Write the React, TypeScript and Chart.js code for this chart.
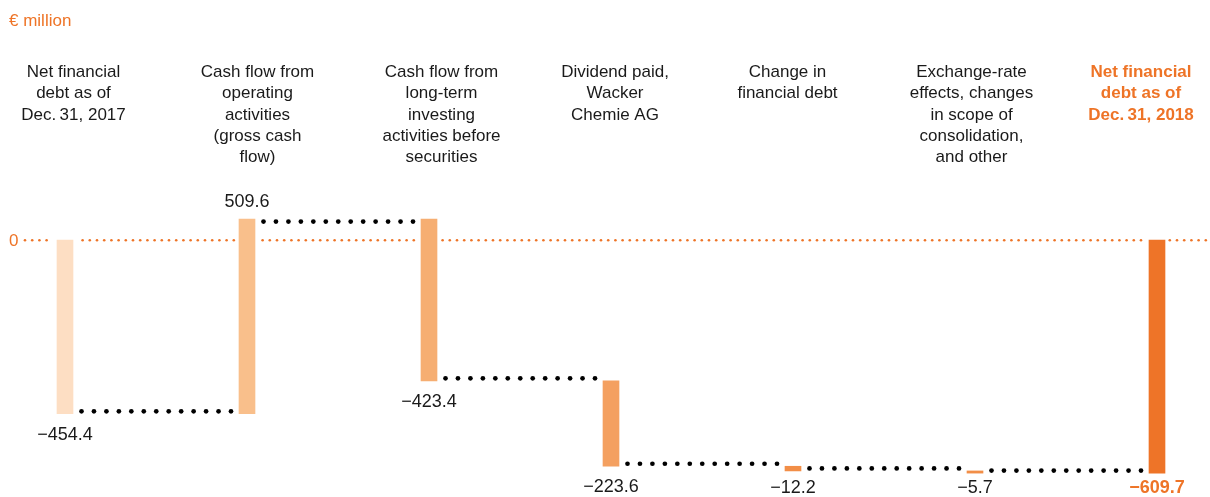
import React, { useEffect, useRef } from "react";
import { Chart, registerables } from "chart.js";

Chart.register(...registerables);

// ---------- data ----------
const CATEGORIES: string[][] = [
  ["Net financial", "debt as of", "Dec.\u200931, 2017"],
  ["Cash flow from", "operating", "activities", "(gross cash", "flow)"],
  ["Cash flow from", "long-term", "investing", "activities before", "securities"],
  ["Dividend paid,", "Wacker", "Chemie AG"],
  ["Change in", "financial debt"],
  ["Exchange-rate", "effects, changes", "in scope of", "consolidation,", "and other"],
  ["Net financial", "debt as of", "Dec.\u200931, 2018"],
];
const OPENING = -454.4;
const CHANGES = [509.6, -423.4, -223.6, -12.2, -5.7];
const CLOSING = -609.7;
const UNIT = "€ million";
const ZERO_LABEL = "0";

const BAR_COLORS = ["#FDDEC3", "#F9BF8B", "#F6AE72", "#F4A060", "#F28E47", "#F28E47", "#EE7428"];
const ORANGE = "#EE7427";
const TEXT = "#1a1a1a";
const FONT = "'Liberation Sans', Arial, Helvetica, sans-serif";
const LABEL_DX = [8.5, 10.5, 12.5, 4, -5.5, -3.5, -16];

// floating ranges derived from the values
const VALUES = [OPENING, ...CHANGES, CLOSING];
const RANGES: [number, number][] = (() => {
  const r: [number, number][] = [[0, OPENING]];
  let level = OPENING;
  for (const c of CHANGES) {
    const next = Math.round((level + c) * 10) / 10;
    r.push([level, next]);
    level = next;
  }
  r.push([0, CLOSING]);
  return r;
})();

const fmt = (v: number) => (v < 0 ? "\u2212" + Math.abs(v).toFixed(1) : v.toFixed(1));

const waterfallPlugin = {
  id: "waterfallDecor",
  beforeDatasetsDraw(chart: any) {
    const ctx = chart.ctx as CanvasRenderingContext2D;
    const y0 = chart.scales.y.getPixelForValue(0);
    const meta = chart.getDatasetMeta(0);
    const blocks: [number, number][] = [];
    meta.data.forEach((b: any, i: number) => {
      const [s, e] = RANGES[i];
      if (Math.min(s, e) <= 0 && Math.max(s, e) >= 0) blocks.push([b.x - b.width / 2 - 3.5, b.x + b.width / 2 + 3.5]);
    });
    ctx.save();
    ctx.fillStyle = ORANGE;
    for (let x = 25; x <= chart.width; x += 7.2) {
      if (blocks.some(([a, bb]) => x > a && x < bb)) continue;
      ctx.beginPath();
      ctx.arc(x, y0, 1.3, 0, Math.PI * 2);
      ctx.fill();
    }
    ctx.font = `17px ${FONT}`;
    ctx.textAlign = "left";
    ctx.textBaseline = "middle";
    ctx.fillText(ZERO_LABEL, 9, y0 + 1);
    ctx.restore();
  },
  afterDatasetsDraw(chart: any) {
    const ctx = chart.ctx as CanvasRenderingContext2D;
    const ys = chart.scales.y;
    const meta = chart.getDatasetMeta(0);
    const bars = meta.data as any[];
    ctx.save();
    // connectors
    ctx.fillStyle = "#000";
    for (let i = 0; i < bars.length - 1; i++) {
      const [s, e] = RANGES[i];
      const y = ys.getPixelForValue(e) + (e < s ? -2.5 : 2.5);
      const x0 = bars[i].x + bars[i].width / 2 + 8.5;
      const x1 = bars[i + 1].x - bars[i + 1].width / 2 - 8;
      const n = Math.max(1, Math.round((x1 - x0) / 12.5));
      const step = (x1 - x0) / n;
      for (let k = 0; k <= n; k++) {
        ctx.beginPath();
        ctx.arc(x0 + k * step, y, 2.35, 0, Math.PI * 2);
        ctx.fill();
      }
    }
    // value labels
    ctx.textAlign = "center";
    ctx.textBaseline = "middle";
    bars.forEach((b: any, i: number) => {
      const [s, e] = RANGES[i];
      const top = Math.min(b.y, b.base);
      const bottom = Math.max(b.y, b.base);
      const last = i === bars.length - 1;
      ctx.font = `${last ? "bold " : ""}18px ${FONT}`;
      ctx.fillStyle = last ? ORANGE : TEXT;
      const y = e > s ? top - 17 : Math.min(bottom + 21, 488);
      ctx.fillText(fmt(VALUES[i]), b.x, y);
    });
    // category labels
    bars.forEach((b: any, i: number) => {
      const last = i === bars.length - 1;
      ctx.font = `${last ? "bold " : ""}17px ${FONT}`;
      ctx.fillStyle = last ? ORANGE : TEXT;
      CATEGORIES[i].forEach((line, j) => {
        ctx.fillText(line, b.x + LABEL_DX[i], 72.5 + j * 21.3);
      });
    });
    // unit
    ctx.font = `17px ${FONT}`;
    ctx.fillStyle = ORANGE;
    ctx.textAlign = "left";
    ctx.fillText(UNIT, 9, 21);
    ctx.restore();
  },
};

export default function App() {
  const ref = useRef<HTMLCanvasElement | null>(null);
  useEffect(() => {
    if (!ref.current) return;
    const chart = new Chart(ref.current, {
      type: "bar",
      data: {
        labels: CATEGORIES.map((c) => c.join(" ")),
        datasets: [
          {
            data: RANGES as any,
            backgroundColor: BAR_COLORS,
            borderWidth: 0,
            barThickness: 16,
            clip: false as any,
          },
        ],
      },
      options: {
        animation: false,
        responsive: false,
        devicePixelRatio: 1,
        layout: { padding: { left: 65, right: 53, top: 202, bottom: 8.5 } },
        scales: {
          x: { type: "category", offset: false, display: false },
          y: { min: -650, max: 100, display: false },
        },
        plugins: { legend: { display: false }, tooltip: { enabled: false } },
      },
      plugins: [waterfallPlugin],
    });
    return () => chart.destroy();
  }, []);
  return (
    <div style={{ position: "fixed", left: 0, top: 0, width: 1210, height: 497, background: "#fff" }}>
      <canvas ref={ref} width={1210} height={497} style={{ width: 1210, height: 497, display: "block" }} />
    </div>
  );
}
